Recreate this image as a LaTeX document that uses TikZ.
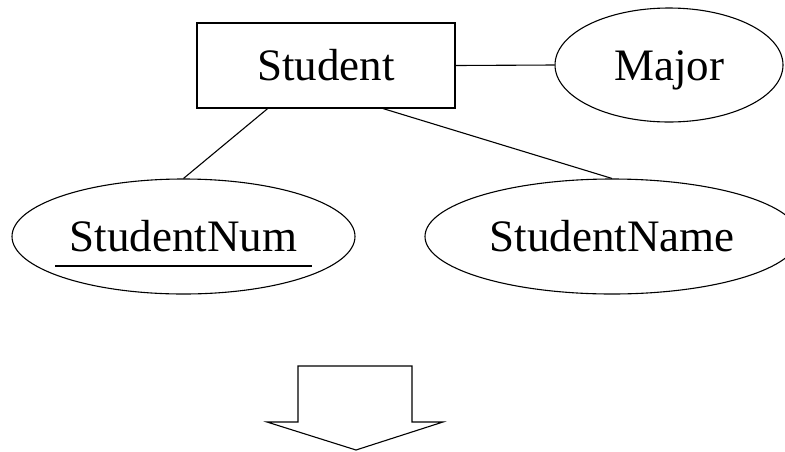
\documentclass[tikz,border=0pt]{standalone}
\usepackage{fontspec}
\setmainfont{Liberation Serif}
\usetikzlibrary{shapes.geometric,calc}
\begin{document}
\begin{tikzpicture}[x=1pt,y=-1pt,
  every node/.style={font=\fontsize{45}{54}\selectfont, inner sep=0pt,
    text height=30pt, text depth=0pt, line width=1.1pt},
  entity/.style={draw, rectangle, minimum width=258pt, minimum height=85pt},
  attr/.style={draw, ellipse},
  conn/.style={line width=1.1pt}]
  \clip (0,0) rectangle (785,451);

  % entity and its attributes
  \node[entity] (student) at (326,65.5) {Student};
  \node[attr, minimum width=228pt, minimum height=114pt] (major) at (669,65) {Major};
  \node[attr, minimum width=343pt, minimum height=115pt] (num) at (183.5,236.5) {StudentNum};
  \node[attr, minimum width=374pt, minimum height=115pt] (name) at (612,236.5) {StudentName};

  % key attribute underline
  \draw[conn] ($(num.center)+(-128.5,29.5)$) -- ($(num.center)+(128.5,29.5)$);

  % connectors
  \draw[conn] (student.east) -- (major.west);
  \draw[conn] ($(student.south west)!0.275!(student.south east)$) -- (num.north);
  \draw[conn] ($(student.south west)!0.72!(student.south east)$) -- (name.north);

  % downward block arrow
  \coordinate (tl) at (298,366);
  \coordinate (tr) at (412,366);
  \coordinate (tip) at (356,450);
  \draw[conn, line join=miter] (tl) -- (tr) -- (412,422) -- (443,422) -- (tip)
    -- (267,422) -- (298,422) -- cycle;
\end{tikzpicture}
\end{document}
